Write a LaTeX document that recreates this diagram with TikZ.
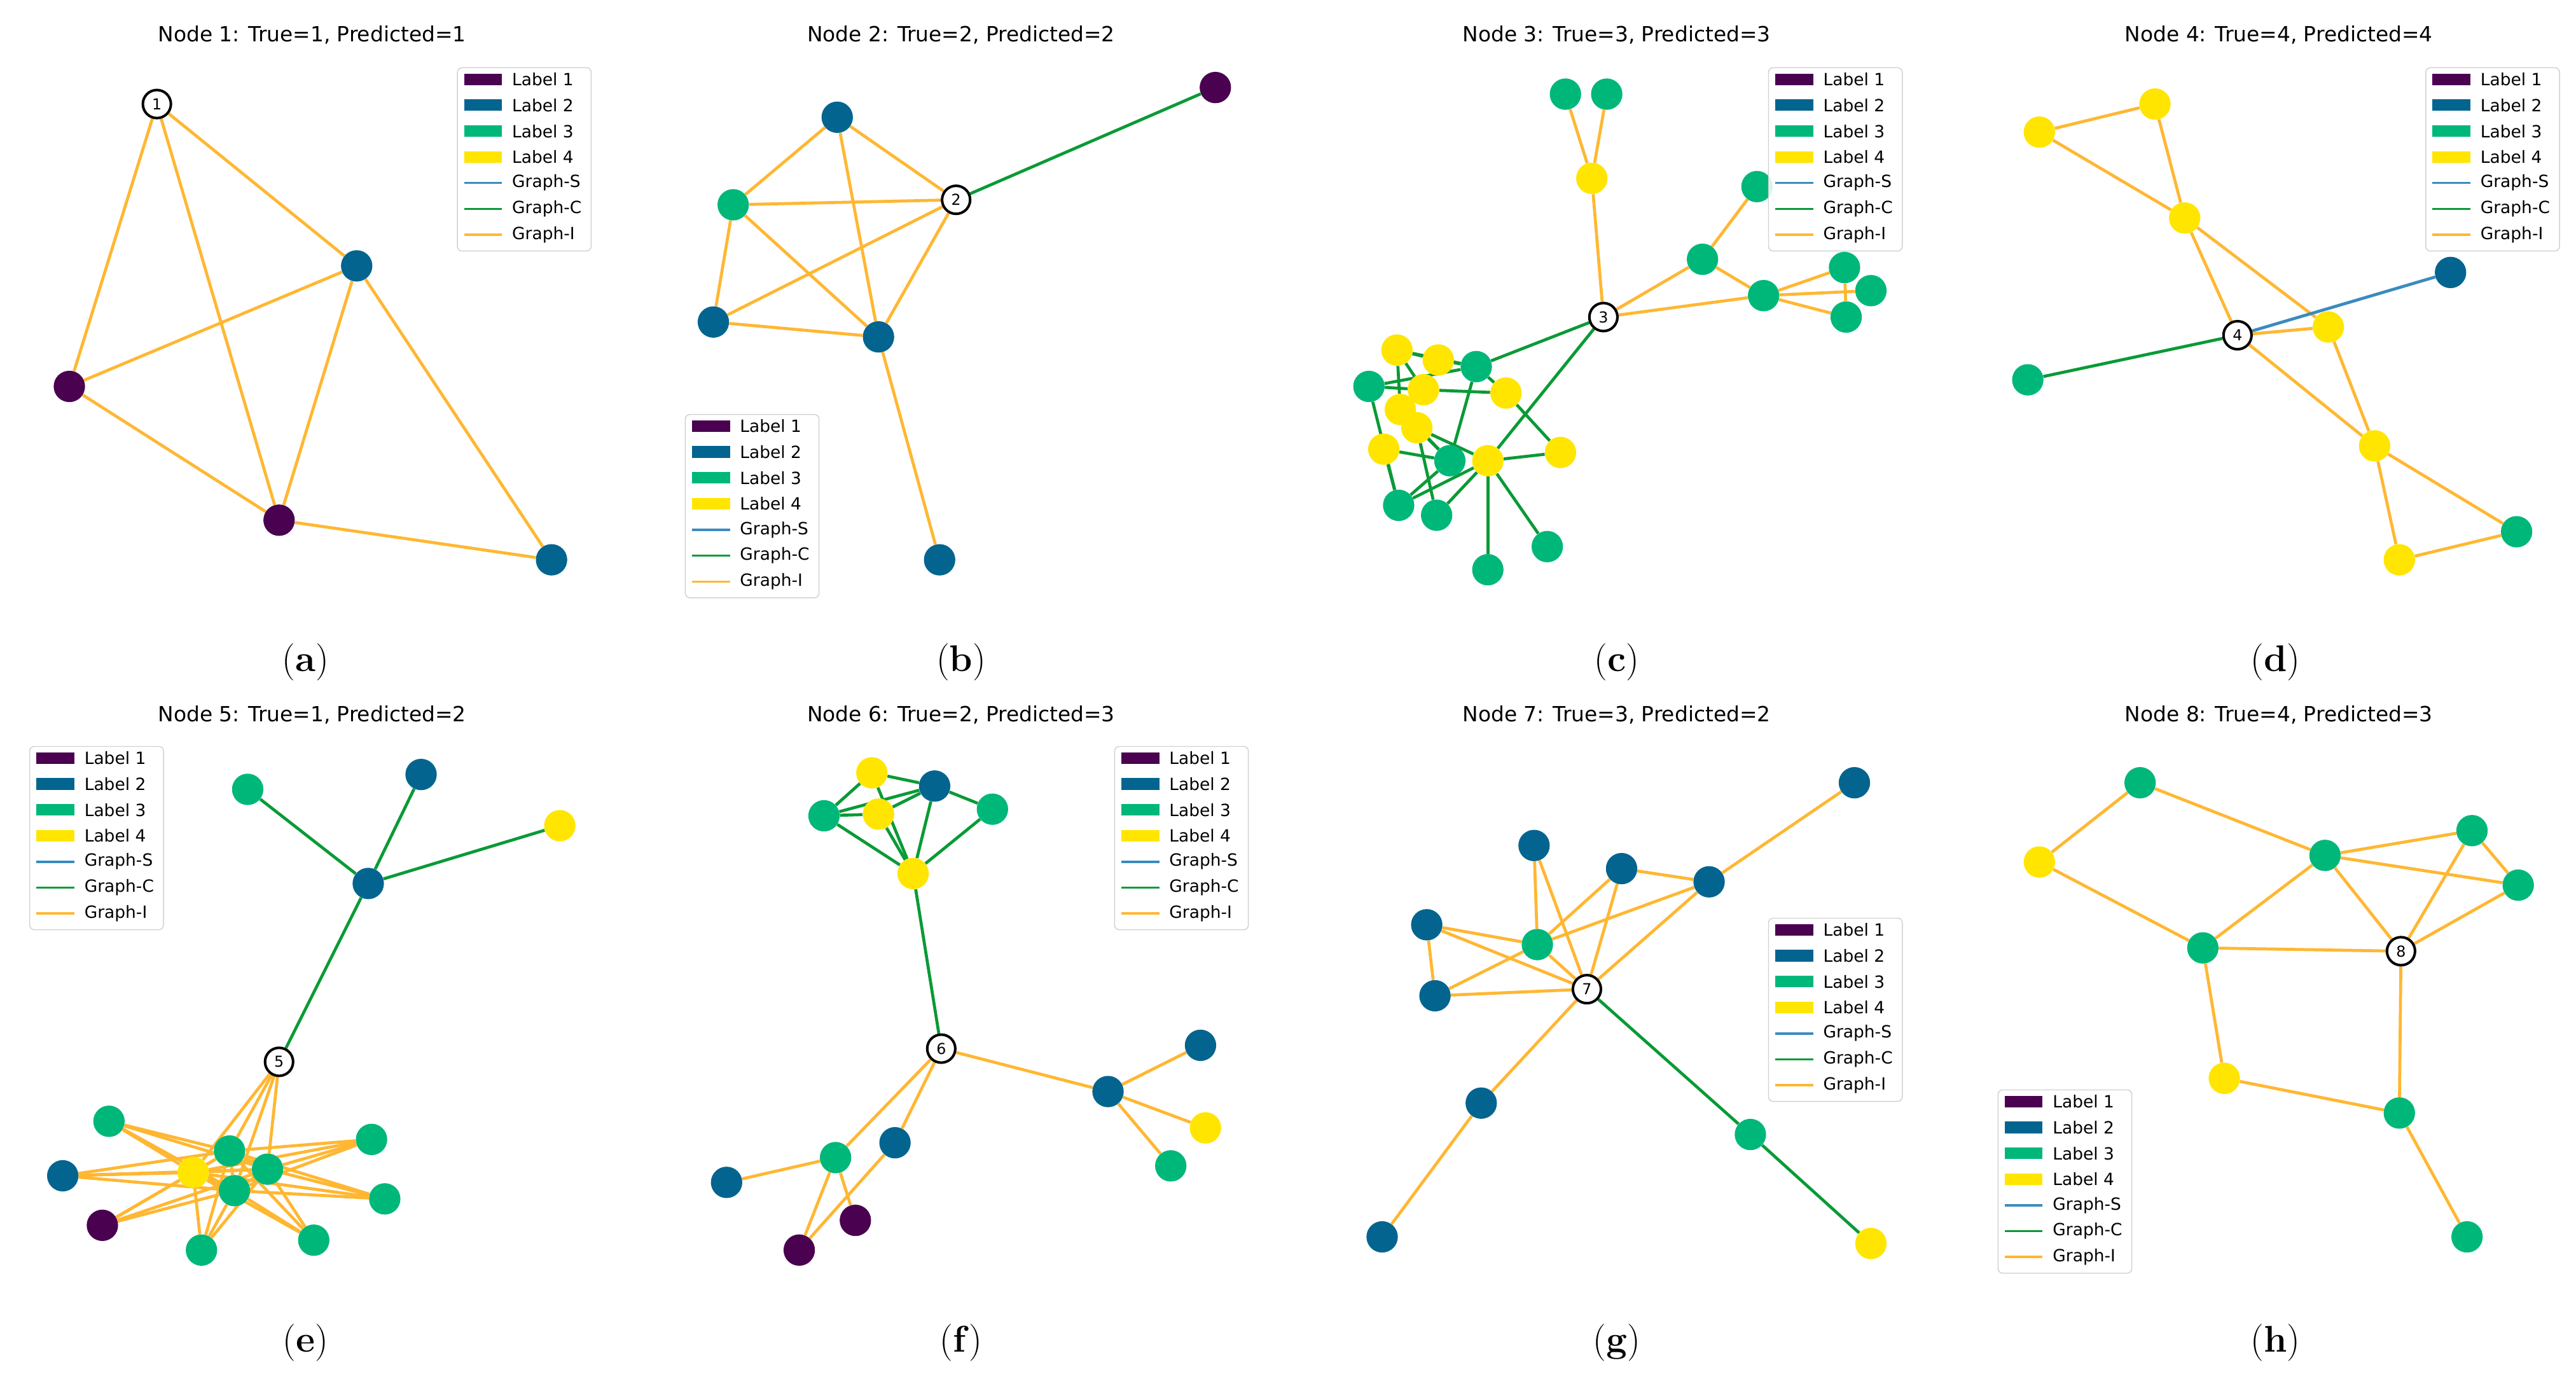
\documentclass[tikz,border=0pt]{standalone}
\usepackage{fontspec}
\newfontfamily\djfont{DejaVu Sans}
\usetikzlibrary{backgrounds}
\definecolor{cA}{HTML}{4A0150}
\definecolor{cB}{HTML}{03658F}
\definecolor{cC}{HTML}{00B77A}
\definecolor{cD}{HTML}{FFE500}
\definecolor{eI}{HTML}{FFB732}
\definecolor{eC}{HTML}{0A9A36}
\definecolor{eS}{HTML}{3A8BC0}
\tikzset{
 vtx/.style={circle,minimum size=0.95cm,inner sep=0pt,draw=none},
 nA/.style={vtx,fill=cA}, nB/.style={vtx,fill=cB}, nC/.style={vtx,fill=cC}, nD/.style={vtx,fill=cD},
 ctr/.style={circle,minimum size=0.85cm,inner sep=0pt,draw=black,line width=2.2pt,fill=white,font=\djfont\fontsize{13}{13}\selectfont},
 ei/.style={draw=eI,line width=2.6pt},
 ec/.style={draw=eC,line width=2.6pt},
 es/.style={draw=eS,line width=2.6pt},
 ttl/.style={font=\djfont\fontsize{18}{20}\selectfont},
 subcap/.style={font=\fontsize{32}{36}\selectfont},
 lt/.style={font=\djfont\fontsize{14.5}{16}\selectfont,anchor=west,inner sep=0pt}
}
\newcommand{\mylegend}[2]{%
\begin{scope}[shift={(#1,#2)}]
\draw[draw=black!18,fill=white,fill opacity=0.85,rounded corners=4pt,line width=0.8pt] (0,0) rectangle (81,111);
\foreach \c/\t [count=\i] in {cA/Label 1,cB/Label 2,cC/Label 3,cD/Label 4}{
 \fill[\c] (4,{7+(\i-1)*15.7-3.5}) rectangle (27,{7+(\i-1)*15.7+3.5});
 \node[lt] at (33,{7+(\i-1)*15.7}) {\t};}
\foreach \c/\t [count=\i] in {eS/Graph-S,eC/Graph-C,eI/Graph-I}{
 \draw[\c,line width=2pt] (4,{7+(\i+3)*15.7}) -- (27,{7+(\i+3)*15.7});
 \node[lt] at (33,{7+(\i+3)*15.7}) {\t};}
\end{scope}}
\begin{document}
\begin{tikzpicture}[x=0.05cm,y=-0.05cm]
\useasboundingbox (0,0) rectangle (1560,839);
% titles and captions
\node[ttl] at (189,21) {Node 1: True=1, Predicted=1};
\node[ttl] at (582,21) {Node 2: True=2, Predicted=2};
\node[ttl] at (979,21) {Node 3: True=3, Predicted=3};
\node[ttl] at (1380,21) {Node 4: True=4, Predicted=4};
\node[ttl] at (189,433) {Node 5: True=1, Predicted=2};
\node[ttl] at (582,433) {Node 6: True=2, Predicted=3};
\node[ttl] at (979,433) {Node 7: True=3, Predicted=2};
\node[ttl] at (1380,433) {Node 8: True=4, Predicted=3};
\node[subcap] at (185,401) {(\textbf{a})};
\node[subcap] at (582,401) {(\textbf{b})};
\node[subcap] at (979,401) {(\textbf{c})};
\node[subcap] at (1378,401) {(\textbf{d})};
\node[subcap] at (185,813) {(\textbf{e})};
\node[subcap] at (582,813) {(\textbf{f})};
\node[subcap] at (979,813) {(\textbf{g})};
\node[subcap] at (1378,813) {(\textbf{h})};
% ---------- panel a
\node[ctr] (a0) at (95,63) {1};
\node[nB] (a1) at (216,161) {};
\node[nA] (a2) at (42,234) {};
\node[nA] (a3) at (169,315) {};
\node[nB] (a4) at (334,339) {};
% ---------- panel b
\node[ctr] (b0) at (579,121) {2};
\node[nA] (b1) at (736,53) {};
\node[nB] (b2) at (507,71) {};
\node[nC] (b3) at (444,124) {};
\node[nB] (b4) at (432,195) {};
\node[nB] (b5) at (532,204) {};
\node[nB] (b6) at (569,339) {};
% ---------- panel c
\node[ctr] (c0) at (971,192) {3};
\node[nC] (c1) at (948,57) {};
\node[nC] (c2) at (973,57) {};
\node[nD] (c3) at (964,108) {};
\node[nC] (c4) at (1031,157) {};
\node[nC] (c5) at (1064,113) {};
\node[nC] (c6) at (1068,179) {};
\node[nC] (c7) at (1117,162) {};
\node[nC] (c8) at (1133,176) {};
\node[nC] (c9) at (1118,192) {};
\node[nC] (d4) at (829,234) {};
\node[nC] (d3) at (894,222) {};
\node[nD] (d1) at (846,212) {};
\node[nD] (d2) at (871,218) {};
\node[nD] (d5) at (862,236) {};
\node[nD] (d6) at (912,238) {};
\node[nD] (d7) at (848,248) {};
\node[nD] (d8) at (858,259) {};
\node[nD] (d9) at (838,272) {};
\node[nC] (d10) at (878,279) {};
\node[nD] (d11) at (901,279) {};
\node[nD] (d12) at (945,274) {};
\node[nC] (d13) at (847,306) {};
\node[nC] (d14) at (870,312) {};
\node[nC] (d15) at (937,331) {};
\node[nC] (d16) at (901,345) {};
% ---------- panel d
\node[ctr] (e0) at (1355,203) {4};
\node[nD] (e1) at (1235,80) {};
\node[nD] (e2) at (1305,63) {};
\node[nD] (e3) at (1323,132) {};
\node[nB] (e4) at (1484,165) {};
\node[nD] (e5) at (1410,198) {};
\node[nC] (e6) at (1228,230) {};
\node[nD] (e7) at (1438,270) {};
\node[nD] (e8) at (1453,339) {};
\node[nC] (e9) at (1524,322) {};
% ---------- panel e
\node[ctr] (f0) at (169,643) {5};
\node[nC] (f1) at (150,478) {};
\node[nB] (f2) at (255,469) {};
\node[nD] (f3) at (339,500) {};
\node[nB] (f4) at (223,535) {};
\node[nC] (f5) at (66,679) {};
\node[nB] (f6) at (38,712) {};
\node[nA] (f7) at (62,742) {};
\node[nC] (f12) at (225,690) {};
\node[nC] (f13) at (233,726) {};
\node[nC] (f14) at (190,751) {};
\node[nC] (f15) at (122,757) {};
\node[nD] (f8) at (117,710) {};
\node[nC] (f9) at (139,697) {};
\node[nC] (f10) at (162,708) {};
\node[nC] (f11) at (142,721) {};
% ---------- panel f
\node[ctr] (g0) at (570,635) {6};
\node[nD] (g1) at (528,468) {};
\node[nB] (g2) at (566,476) {};
\node[nC] (g3) at (499,494) {};
\node[nD] (g4) at (532,493) {};
\node[nC] (g5) at (601,490) {};
\node[nD] (g6) at (553,529) {};
\node[nB] (g7) at (671,661) {};
\node[nB] (g8) at (727,633) {};
\node[nD] (g9) at (730,683) {};
\node[nC] (g10) at (709,706) {};
\node[nC] (g11) at (506,701) {};
\node[nB] (g12) at (542,692) {};
\node[nB] (g13) at (440,716) {};
\node[nA] (g14) at (484,757) {};
\node[nA] (g15) at (518,739) {};
% ---------- panel g
\node[ctr] (h0) at (961,599) {7};
\node[nB] (h1) at (1123,474) {};
\node[nB] (h2) at (929,512) {};
\node[nB] (h3) at (982,526) {};
\node[nB] (h4) at (1035,534) {};
\node[nB] (h5) at (864,560) {};
\node[nC] (h6) at (931,572) {};
\node[nB] (h7) at (869,603) {};
\node[nB] (h8) at (897,668) {};
\node[nB] (h9) at (837,749) {};
\node[nC] (h10) at (1060,687) {};
\node[nD] (h11) at (1133,753) {};
% ---------- panel h
\node[ctr] (k0) at (1454,576) {8};
\node[nC] (k1) at (1296,474) {};
\node[nD] (k2) at (1235,522) {};
\node[nC] (k3) at (1408,518) {};
\node[nC] (k4) at (1497,503) {};
\node[nC] (k5) at (1525,536) {};
\node[nC] (k6) at (1334,574) {};
\node[nD] (k7) at (1347,653) {};
\node[nC] (k8) at (1453,674) {};
\node[nC] (k9) at (1494,749) {};
% ---------- edges
\begin{pgfonlayer}{background}
\foreach \p/\q in {a0/a2,a0/a3,a0/a1,a2/a1,a2/a3,a3/a1,a1/a4,a3/a4,
 b0/b3,b0/b2,b0/b4,b0/b5,b2/b3,b2/b5,b3/b4,b3/b5,b4/b5,b5/b6,
 c0/c3,c3/c1,c3/c2,c0/c4,c0/c6,c4/c5,c4/c6,c6/c7,c6/c8,c6/c9,c7/c9,
 e1/e2,e1/e3,e2/e3,e3/e0,e3/e5,e0/e5,e0/e7,e5/e7,e7/e8,e7/e9,e8/e9,
 g0/g7,g7/g8,g7/g9,g7/g10,g0/g11,g0/g12,g11/g13,g11/g14,g11/g15,g12/g14,
 h1/h4,h4/h3,h4/h6,h4/h0,h3/h6,h3/h0,h2/h6,h2/h0,h5/h6,h5/h7,h5/h0,h6/h7,h7/h0,h6/h0,h0/h8,h8/h9,
 k1/k2,k1/k3,k2/k6,k3/k4,k3/k5,k3/k6,k3/k0,k4/k5,k4/k0,k5/k0,k6/k0,k6/k7,k7/k8,k0/k8,k8/k9,
 f0/f8,f0/f9,f0/f10,f0/f11,f8/f9,f8/f10,f8/f11,f9/f10,f9/f11,f10/f11}
 \draw[ei] (\p)--(\q);
\foreach \p in {f5,f6,f7,f12,f13,f14,f15}
 \foreach \q in {f8,f9,f10,f11} \draw[ei] (\p)--(\q);
\foreach \p/\q in {b0/b1,e0/e6,f0/f4,f4/f1,f4/f2,f4/f3,h0/h10,h10/h11,
 g1/g2,g1/g3,g3/g4,g3/g2,g4/g2,g2/g5,g6/g3,g6/g1,g6/g4,g6/g2,g6/g5,g0/g6,
 c0/d3,c0/d11,d3/d1,d3/d2,d4/d3,d4/d5,d1/d5,d1/d7,d3/d6,d5/d6,d6/d12,d3/d10,
 d8/d11,d8/d10,d9/d10,d9/d13,d4/d13,d7/d10,d11/d13,d11/d14,d11/d12,d11/d15,d11/d16,d10/d13,d8/d14,d2/d5,d1/d2}
 \draw[ec] (\p)--(\q);
\draw[es] (e0)--(e4);
\end{pgfonlayer}
% legends
\mylegend{277}{41}
\mylegend{415}{251}
\mylegend{1071}{41}
\mylegend{1469}{41}
\mylegend{18}{452}
\mylegend{675}{452}
\mylegend{1071}{556}
\mylegend{1210}{660}
\end{tikzpicture}
\end{document}
